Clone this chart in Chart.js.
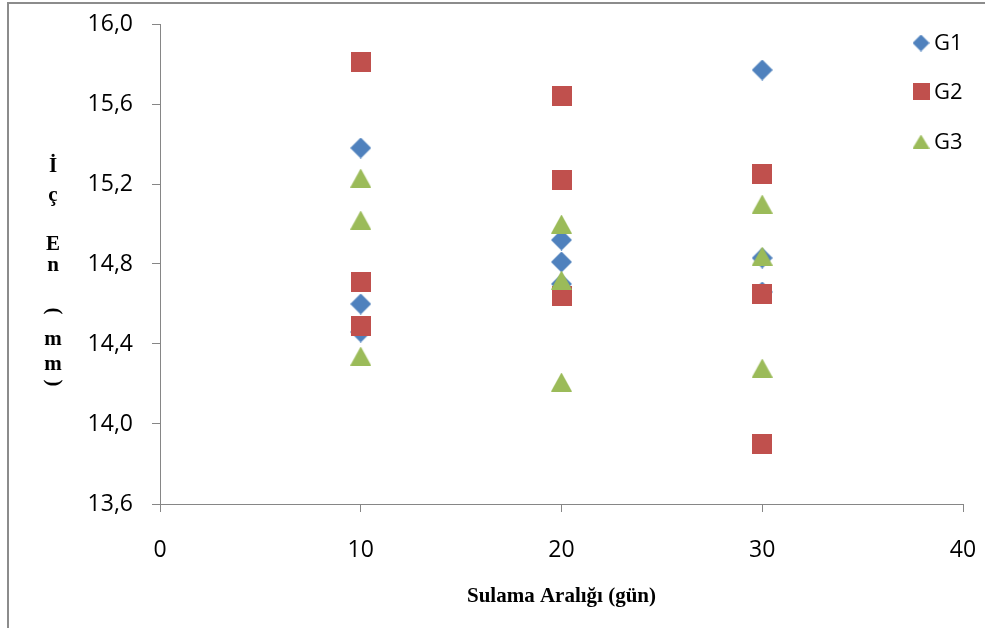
<!DOCTYPE html>
<html>
<head>
<meta charset="utf-8">
<script src="https://cdn.jsdelivr.net/npm/chart.js@4/dist/chart.umd.min.js"></script>
<style>
  body { margin: 0; background: #fff; }
</style>
</head>
<body>
<canvas id="chart" width="985" height="628"></canvas>
<script>
// irrigation interval (days) for every measurement, same for all groups
const xValues = [10, 10, 10, 20, 20, 20, 30, 30, 30];
const g1Values = [15.38, 14.60, 14.46, 14.92, 14.81, 14.70, 15.77, 14.83, 14.66];
const g2Values = [15.81, 14.71, 14.49, 15.64, 15.22, 14.64, 15.25, 14.65, 13.90];
const g3Values = [15.23, 15.02, 14.34, 15.00, 14.72, 14.21, 15.10, 14.84, 14.28];
const seriesNames = ["G1", "G2", "G3"];
const xTicks = [0, 10, 20, 30, 40];
const yTicks = [13.6, 14.0, 14.4, 14.8, 15.2, 15.6, 16.0];
const xTitle = "Sulama Aralığı (gün)";
const yTitle = "İç En (mm)";

const colors = ["#4F81BD", "#C0504D", "#9BBB59"];
const axisColor = "#868686";
const tickFont = {family: "'Open Sans'", size: 23};

// excel-like markers, drawn centered on the point
function makeMarker(shape, color, w, h){
    const c = document.createElement("canvas");
    c.width = w; c.height = h;
    const g = c.getContext("2d");
    g.fillStyle = color;
    g.beginPath();
    if(shape === "diamond"){
        g.moveTo(w/2, 0); g.lineTo(w, h/2); g.lineTo(w/2, h); g.lineTo(0, h/2);
    }else if(shape === "square"){
        g.rect(0, 0, w, h);
    }else{
        g.moveTo(w/2, 0); g.lineTo(w, h); g.lineTo(0, h);
    }
    g.closePath();
    g.fill();
    return c;
}

const markers = [
    makeMarker("diamond", colors[0], 21, 21),
    makeMarker("square", colors[1], 20, 20),
    makeMarker("triangle", colors[2], 21, 19)
];
const legendMarkers = [
    makeMarker("diamond", colors[0], 17, 17),
    makeMarker("square", colors[1], 17, 17),
    makeMarker("triangle", colors[2], 17, 14)
];

function toPoints(ys){
    return ys.map((y, i) => ({x: xValues[i], y: y}));
}

// scales keep a fixed box, no extra room for label overflow
function noPad(s){
    s.paddingTop = 0; s.paddingBottom = 0;
    s.paddingLeft = 0; s.paddingRight = 0;
}

const decor = {
    id: "decor",
    beforeDraw(chart){
        const ctx = chart.ctx;
        ctx.save();
        ctx.fillStyle = "#fff";
        ctx.fillRect(0, 0, chart.width, chart.height);
        ctx.strokeStyle = "#8c8c8c";
        ctx.lineWidth = 2;
        ctx.beginPath();
        ctx.moveTo(8, chart.height);
        ctx.lineTo(8, 3);
        ctx.lineTo(chart.width, 3);
        ctx.stroke();
        ctx.restore();
    },
    afterDraw(chart){
        const ctx = chart.ctx;
        ctx.save();
        // stacked y title, like the excel original
        ctx.fillStyle = "#000";
        ctx.font = "bold 21px 'Liberation Serif'";
        ctx.textAlign = "center";
        const ys = [172, 201, 0, 250, 271, 0, 311, 345, 370, 383];
        const chars = Array.from(yTitle);
        chars.forEach((ch, i) => {
            if(ch === " ") return;
            if(ch === "(" || ch === ")"){
                ctx.save();
                ctx.translate(53, ys[i]);
                ctx.rotate(Math.PI/2);
                ctx.textBaseline = "middle";
                ctx.fillText(ch, 0, 0);
                ctx.restore();
            }else{
                ctx.textBaseline = "alphabetic";
                ctx.fillText(ch, 53, ys[i]);
            }
        });
        // legend
        const ly = [43, 91.5, 141.5];
        ctx.font = "22px 'Open Sans'";
        ctx.textAlign = "left";
        ctx.textBaseline = "middle";
        for(let i = 0; i < 3; ++i){
            const m = legendMarkers[i];
            ctx.drawImage(m, 921 - m.width/2, ly[i] - m.height/2);
            ctx.fillText(seriesNames[i], 934, ly[i] + 1);
        }
        ctx.restore();
    }
};

const chart = new Chart(document.getElementById("chart"), {
    type: "scatter",
    data: {
        datasets: [g1Values, g2Values, g3Values].map((vals, i) => ({
            label: seriesNames[i],
            data: toPoints(vals),
            pointStyle: markers[i],
            pointRadius: 10,
            pointHoverRadius: 10,
            order: 2 - i
        }))
    },
    options: {
        responsive: false,
        animation: false,
        layout: {autoPadding: false, padding: {left: 0, right: 22, top: 24, bottom: 0}},
        plugins: {legend: {display: false}, tooltip: {enabled: false}},
        scales: {
            x: {
                type: "linear",
                min: 0, max: 40,
                afterBuildTicks: (s) => { s.ticks = xTicks.map(v => ({value: v})); },
                afterFit: (s) => { s.height = 124; noPad(s); },
                grid: {drawOnChartArea: false, tickLength: 8, tickColor: axisColor},
                border: {color: axisColor, width: 1},
                ticks: {color: "#000", font: tickFont, padding: 25, maxRotation: 0},
                title: {
                    display: true,
                    text: xTitle,
                    color: "#000",
                    font: {family: "'Liberation Serif'", size: 21, weight: "bold"},
                    padding: {top: 0, bottom: 19}
                }
            },
            y: {
                type: "linear",
                min: 13.6, max: 16.0,
                afterBuildTicks: (s) => { s.ticks = yTicks.map(v => ({value: v})); },
                afterFit: (s) => { s.width = 160; noPad(s); },
                grid: {drawOnChartArea: false, tickLength: 8, tickColor: axisColor},
                border: {color: axisColor, width: 1},
                ticks: {
                    color: "#000", font: tickFont, padding: 19,
                    callback: (v) => Number(v).toFixed(1).replace(".", ",")
                }
            }
        }
    },
    plugins: [decor]
});
</script>
</body>
</html>
